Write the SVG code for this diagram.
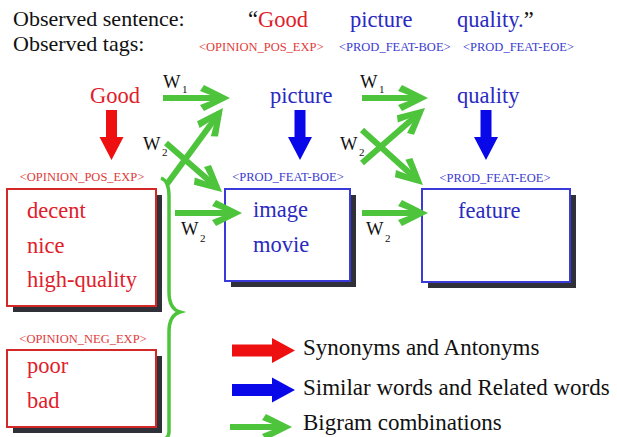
<svg xmlns="http://www.w3.org/2000/svg" width="617" height="437" viewBox="0 0 617 437" font-family="'Liberation Serif', 'DejaVu Serif', serif">
<style>
text{font-family:'Liberation Serif','DejaVu Serif',serif}
.big{font-size:22.5px}
.hd{font-size:22px}
.lg{font-size:23px;fill:#111}
.red{fill:#e0202a}
.blue{fill:#2a2ac0}
.blk{fill:#111}
.tagr{font-size:12.5px;fill:#e03a3a}
.tagb{font-size:12.5px;fill:#3a3ad0}
.w{font-size:18.5px;fill:#111}
.sub{font-size:11px;fill:#111}
.boxr{fill:#fff;stroke:#d42828;stroke-width:2}
.boxb{fill:#fff;stroke:#3a3ad8;stroke-width:2}
.shadow{fill:#303038}
.g{fill:none;stroke:#4ec43c;stroke-width:6;marker-end:url(#oa)}
.brace{fill:none;stroke:#4ec43c;stroke-width:3.5}
.rarr{fill:#ee1010}
.barr{fill:#0808e8}
</style>
<defs>
<marker id="oa" markerUnits="userSpaceOnUse" orient="auto" refX="0" refY="0" markerWidth="40" markerHeight="40" overflow="visible">
<path d="M6,0 L-20,-13 L-24,-7 L-6,0 L-24,7 L-20,13 Z" fill="#4ec43c"/>
</marker>
</defs>
<rect width="617" height="437" fill="#fff"/>

<g id="header">
<text class="hd blk" x="13" y="26">Observed sentence:</text>
<text class="hd blk" x="13" y="51">Observed tags:</text>
<text class="big" x="248" y="27"><tspan class="blk">“</tspan><tspan class="red">Good</tspan></text>
<text class="big blue" x="350" y="27">picture</text>
<text class="big" x="457" y="27"><tspan class="blue">quality.</tspan><tspan class="blk">”</tspan></text>
<text class="tagr" x="199" y="51">&lt;OPINION_POS_EXP&gt;</text>
<text class="tagb" x="339" y="51">&lt;PROD_FEAT-BOE&gt;</text>
<text class="tagb" x="463" y="51">&lt;PROD_FEAT-EOE&gt;</text>
</g>

<g id="word-good"><text class="big red" x="90" y="103">Good</text></g>
<g id="word-picture"><text class="big blue" x="270" y="103">picture</text></g>
<g id="word-quality"><text class="big blue" x="457" y="103">quality</text></g>

<g id="box-opinion-pos">
<text class="tagr" x="82" y="181" text-anchor="middle">&lt;OPINION_POS_EXP&gt;</text>
<rect class="shadow" x="13" y="195" width="149" height="117"/>
<rect class="boxr" x="7" y="189" width="149" height="117"/>
<text class="big red" x="27" y="218">decent</text>
<text class="big red" x="27" y="253">nice</text>
<text class="big red" x="27" y="287">high-quality</text>
</g>

<g id="box-feat-boe">
<text class="tagb" x="288" y="181" text-anchor="middle">&lt;PROD_FEAT-BOE&gt;</text>
<rect class="shadow" x="231" y="195" width="125" height="92"/>
<rect class="boxb" x="225" y="189" width="125" height="92"/>
<text class="big blue" x="253" y="217">image</text>
<text class="big blue" x="253" y="252">movie</text>
</g>

<g id="box-feat-eoe">
<text class="tagb" x="495" y="182" text-anchor="middle">&lt;PROD_FEAT-EOE&gt;</text>
<rect class="shadow" x="428" y="195" width="148" height="93"/>
<rect class="boxb" x="422" y="189" width="148" height="93"/>
<text class="big blue" x="458" y="218">feature</text>
</g>

<g id="box-opinion-neg">
<text class="tagr" x="83" y="343" text-anchor="middle">&lt;OPINION_NEG_EXP&gt;</text>
<rect class="shadow" x="13" y="356" width="149" height="77"/>
<rect class="boxr" x="7" y="350" width="149" height="77"/>
<text class="big red" x="27" y="373">poor</text>
<text class="big red" x="27" y="408">bad</text>
</g>

<g id="connectors">
<polygon class="rarr" points="106,110 117,110 117,137 123.5,137 111.5,160 99.5,137 106,137"/>
<polygon class="barr" points="294.5,110 305.5,110 305.5,137 312,137 300,160 288,137 294.5,137"/>
<polygon class="barr" points="480.5,110 491.5,110 491.5,137 498,137 486,160 474,137 480.5,137"/>
<path class="brace" d="M161,178 C166,180 169,186 169,196 L169,292 C169,304 173,310 180,312 C173,314 169,320 169,332 L169,432 C169,436 167,438 164,440"/>
<path class="g" d="M163,98 L224,98"/>
<path class="g" d="M362,98 L422,98"/>
<path class="g" d="M166,143 L217.5,188"/>
<path class="g" d="M167,184 L219.4,112.8"/>
<path class="g" d="M175,213 L236,213"/>
<path class="g" d="M362,130 L418.5,181"/>
<path class="g" d="M362,163 L420.5,111.9"/>
<path class="g" d="M362,213 L422,213"/>
<text class="w" x="163" y="88">W</text><text class="sub" x="182" y="93">1</text>
<text class="w" x="360" y="88">W</text><text class="sub" x="379" y="93">1</text>
<text class="w" x="143" y="150">W</text><text class="sub" x="162" y="156">2</text>
<text class="w" x="340" y="150">W</text><text class="sub" x="359" y="156">2</text>
<text class="w" x="181" y="235">W</text><text class="sub" x="200" y="242">2</text>
<text class="w" x="366" y="235">W</text><text class="sub" x="385" y="242">2</text>
</g>

<g id="legend">
<polygon class="rarr" points="232,344.5 272,344.5 272,338 295,350.5 272,363 272,356.5 232,356.5"/>
<text class="lg" x="303" y="355">Synonyms and Antonyms</text>
<polygon class="barr" points="232,384 272,384 272,377.5 295,390 272,402.5 272,396 232,396"/>
<text class="lg" x="303" y="395">Similar words and Related words</text>
<path class="g" d="M230,427 L286,427"/>
<text class="lg" x="303" y="430">Bigram combinations</text>
</g>
</svg>
